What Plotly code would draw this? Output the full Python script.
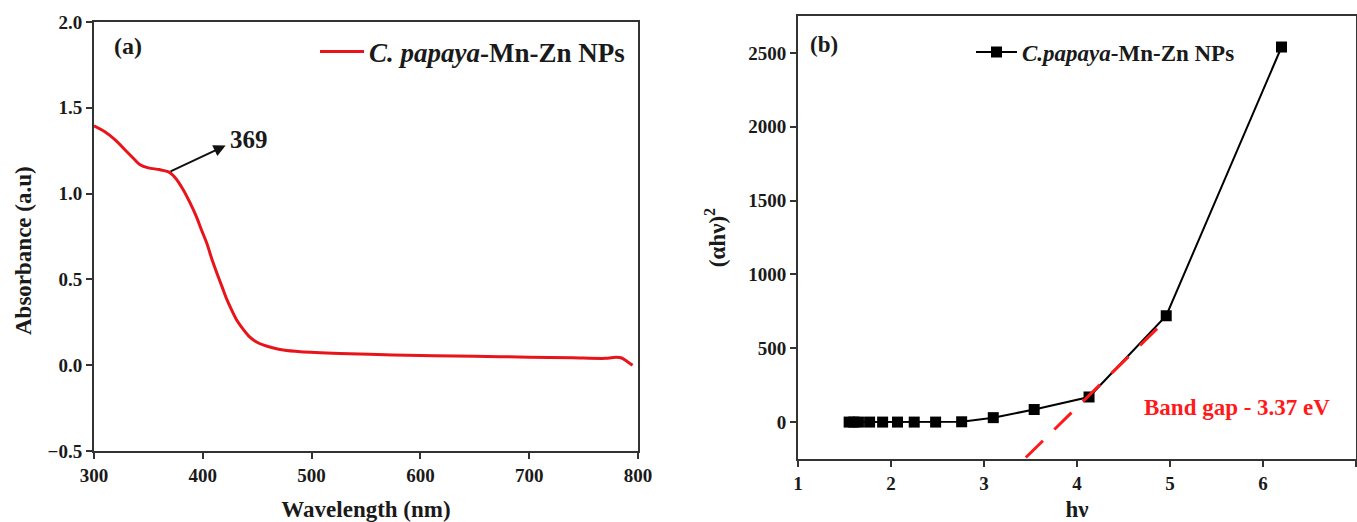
import plotly.graph_objects as go

# ---- Panel (a): UV-Vis absorbance ----
wavelength = [300, 310, 320, 330, 337, 342, 350, 360, 369, 375, 382, 388, 394, 399, 404,
              408, 413, 418, 422, 427, 431, 437, 443, 449, 456, 465, 474, 490, 526, 575,
              650, 700, 740, 770, 780, 785, 790, 795]
absorbance = [1.395, 1.36, 1.31, 1.245, 1.20, 1.17, 1.15, 1.14, 1.125, 1.09, 1.023, 0.95, 0.867, 0.785, 0.705,
              0.625, 0.536, 0.452, 0.385, 0.315, 0.265, 0.21, 0.165, 0.137, 0.117, 0.10, 0.088, 0.078, 0.068, 0.06,
              0.052, 0.047, 0.043, 0.04, 0.046, 0.042, 0.022, 0.0]
peak_label = "369"

# ---- Panel (b): Tauc plot ----
hv = [1.55, 1.60, 1.65, 1.77, 1.91, 2.07, 2.25, 2.48, 2.76, 3.10, 3.54, 4.13, 4.96, 6.20]
ahv2 = [0, 0, 0, 0, 0, 0, 0, 0, 2, 30, 85, 170, 720, 2540]
fit_x = [3.45, 4.97]
fit_y = [-240, 700]
band_gap_text = "Band gap - 3.37 eV"

FONT = "Liberation Serif"
AXCOL = "#333333"
TXT = "#1a1a1a"

fig = go.Figure()

fig.add_trace(go.Scatter(
    x=wavelength, y=absorbance, mode="lines",
    line=dict(color="#e8141a", width=3, shape="spline", smoothing=0.8),
    name="<b><i>C. papaya</i>-Mn-Zn NPs</b>", xaxis="x", yaxis="y", legend="legend"))

fig.add_trace(go.Scatter(
    x=hv, y=ahv2, mode="lines+markers", line=dict(color="black", width=2),
    marker=dict(symbol="square", size=11, color="black"),
    name="<b><i>C.papaya</i>-Mn-Zn NPs</b>", xaxis="x2", yaxis="y2", legend="legend2"))

fig.add_trace(go.Scatter(
    x=fit_x, y=fit_y, mode="lines", line=dict(color="#ff1a1a", width=3, dash="24px,16px"),
    showlegend=False, xaxis="x2", yaxis="y2"))

tickfont = dict(family=FONT, size=19, color=TXT, weight="bold")
titlefont = dict(family=FONT, size=23, color=TXT, weight="bold")
axcommon = dict(showline=True, linecolor=AXCOL, linewidth=2, mirror=True, ticks="outside",
                ticklen=6, tickwidth=2, tickcolor=AXCOL, showgrid=False, zeroline=False,
                tickfont=tickfont, automargin=False)

fig.update_layout(
    template="none",
    width=1357, height=522,
    margin=dict(l=0, r=0, t=0, b=0),
    paper_bgcolor="white", plot_bgcolor="white",
    xaxis=dict(domain=[94/1357, 638/1357], range=[300, 800], dtick=100, anchor="y",
               title=dict(text="Wavelength (nm)", font=titlefont, standoff=20), **axcommon),
    yaxis=dict(domain=[71/522, 500/522], range=[-0.5, 2.0], dtick=0.5, tickformat=".1f", anchor="x",
               **axcommon),
    xaxis2=dict(domain=[798/1357, 1356/1357], range=[1, 7.001], dtick=1, anchor="y2",
                title=dict(text="hν", font=titlefont, standoff=20), **axcommon),
    yaxis2=dict(domain=[63/522, 506/522], range=[-250, 2750], tickvals=[0, 500, 1000, 1500, 2000, 2500],
                anchor="x2",
                title=dict(text="(αhν)<sup>2</sup>", font=titlefont, standoff=16), **axcommon),
    legend=dict(x=315/1357, y=470/522, xanchor="left", yanchor="middle", bgcolor="rgba(0,0,0,0)",
                itemwidth=44, font=dict(family=FONT, size=27, color=TXT)),
    legend2=dict(x=971/1357, y=470/522, xanchor="left", yanchor="middle", bgcolor="rgba(0,0,0,0)",
                 itemwidth=41, font=dict(family=FONT, size=23, color=TXT)),
    showlegend=True,
)

# y-axis title of panel (a)
fig.add_annotation(x=24/1357, y=(522 - 251)/522, xref="paper", yref="paper", textangle=-90,
                   text="<b>Absorbance (a.u)</b>", showarrow=False, xanchor="center", yanchor="middle",
                   font=dict(family=FONT, size=23, color=TXT))

# arrow pointing from the shoulder to the label
fig.add_annotation(x=421, y=1.28, ax=369, ay=1.125, xref="x", yref="y", axref="x", ayref="y",
                   text="", showarrow=True, arrowhead=2, arrowsize=1.2, arrowwidth=2, arrowcolor="#111")
fig.add_annotation(x=423, y=1.316, xref="x", yref="y", text="<b>" + peak_label + "</b>", showarrow=False,
                   xanchor="left", yanchor="middle", font=dict(family=FONT, size=25, color=TXT))

fig.add_annotation(x=128/1357, y=(522 - 46)/522, xref="paper", yref="paper", xanchor="center", yanchor="middle",
                   text="<b>(a)</b>", showarrow=False, font=dict(family=FONT, size=24, color=TXT))
fig.add_annotation(x=824/1357, y=(522 - 45)/522, xref="paper", yref="paper", xanchor="center", yanchor="middle",
                   text="<b>(b)</b>", showarrow=False, font=dict(family=FONT, size=23, color=TXT))
fig.add_annotation(x=1237/1357, y=(522 - 407)/522, xref="paper", yref="paper", xanchor="center", yanchor="middle",
                   text="<b>" + band_gap_text + "</b>", showarrow=False,
                   font=dict(family=FONT, size=23, color="#ff1a1a"))

fig.write_html("out.html")
